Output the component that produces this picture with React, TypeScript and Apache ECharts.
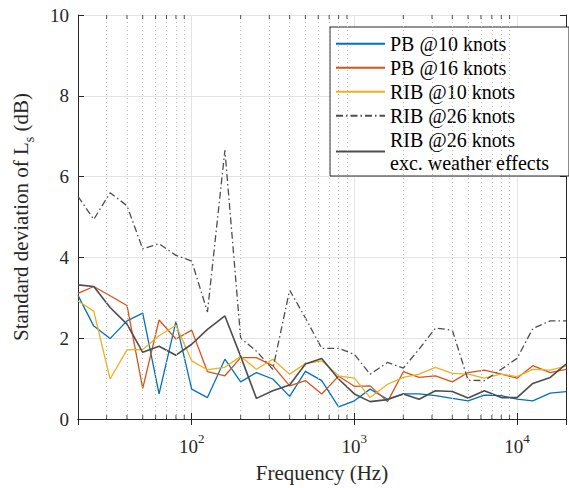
import React, { useEffect, useRef } from 'react';
import * as echarts from 'echarts';

const freqs = [20, 25, 31.5, 40, 50, 63, 80, 100, 125, 160, 200, 250, 315, 400, 500, 630, 800, 1000, 1250, 1600, 2000, 2500, 3150, 4000, 5000, 6300, 8000, 10000, 12500, 16000, 20000];

const pb10 = [3.06, 2.3, 1.99, 2.43, 2.62, 0.62, 2.41, 0.74, 0.53, 1.48, 0.92, 1.15, 0.99, 0.56, 1.18, 0.95, 0.3, 0.45, 0.74, 0.49, 0.62, 0.62, 0.58, 0.51, 0.45, 0.59, 0.58, 0.49, 0.45, 0.64, 0.68];
const pb16 = [3.11, 3.28, 3.05, 2.81, 0.76, 2.45, 1.98, 2.2, 1.17, 1.07, 1.52, 1.52, 1.32, 0.82, 0.95, 0.62, 1.06, 0.81, 0.82, 0.43, 1.17, 1.03, 1.07, 0.92, 1.15, 1.21, 1.11, 1.01, 1.32, 1.15, 1.23];
const rib10 = [2.92, 2.67, 0.99, 1.71, 1.72, 2.06, 2.32, 1.44, 1.22, 1.28, 1.55, 1.23, 1.48, 1.11, 1.37, 1.44, 1.07, 1.01, 0.53, 0.86, 1.03, 1.11, 1.28, 1.13, 1.11, 1.01, 1.11, 1.05, 1.23, 1.21, 1.31];
const rib26 = [5.51, 4.94, 5.6, 5.28, 4.21, 4.34, 4.05, 3.91, 2.65, 6.65, 2.0, 1.68, 1.23, 3.19, 2.5, 1.75, 1.75, 1.6, 1.11, 1.4, 1.26, 1.73, 2.25, 2.2, 0.96, 0.95, 1.23, 1.5, 2.24, 2.43, 2.43];
const rib26ex = [3.32, 3.28, 2.76, 2.35, 1.65, 1.8, 1.58, 1.85, 2.22, 2.55, 1.55, 0.51, 0.7, 0.84, 1.36, 1.5, 0.99, 0.62, 0.43, 0.48, 0.62, 0.49, 0.7, 0.68, 0.52, 0.7, 0.53, 0.53, 0.88, 1.03, 1.36];

const seriesNames = ['PB @10 knots', 'PB @16 knots', 'RIB @10 knots', 'RIB @26 knots', 'RIB @26 knots\nexc. weather effects'];
const minorFreqs = [30, 40, 50, 60, 70, 80, 90, 200, 300, 400, 500, 600, 700, 800, 900, 2000, 3000, 4000, 5000, 6000, 7000, 8000, 9000];
const xMin = 20;
const xMax = 20000;
const yMin = 0;
const yMax = 10;
const yStep = 2;

const pairs = (ys: number[]) => freqs.map((f, i) => [f, ys[i]]);

export default function App() {
  const ref = useRef<HTMLDivElement>(null);
  useEffect(() => {
    const chart = echarts.init(ref.current!, null, { renderer: 'svg' });
    const font = "'Liberation Serif', 'Times New Roman', serif";
    const axisColor = '#262626';
    const gridColor = '#e3e3e3';
    const tickFont = 19;
    const supFmt = (v: number) => {
      const e = Math.log10(v);
      if (Math.abs(e - Math.round(e)) < 1e-6) return `{b|10}{sup|${Math.round(e)}}`;
      return '';
    };
    const lineSeries = (name: string, data: number[], color: string, width: number, type: any) => ({
      name,
      type: 'line',
      data: pairs(data),
      symbol: 'none',
      color,
      lineStyle: { color, width, type },
      z: 2,
    });
    chart.setOption({
      animation: false,
      backgroundColor: '#ffffff',
      textStyle: { fontFamily: font },
      grid: { left: 78, top: 15, width: 492, height: 405 },
      legend: {
        orient: 'vertical',
        left: 330,
        top: 27,
        data: seriesNames,
        backgroundColor: '#ffffff',
        borderColor: axisColor,
        borderWidth: 1,
        borderRadius: 0,
        padding: [5, 20, 1, 5],
        itemWidth: 49,
        itemHeight: 1,
        itemGap: 0.5,
        selectedMode: false,
        textStyle: { fontFamily: font, fontSize: 20, lineHeight: 23.5, color: '#000' },
      },
      xAxis: [
        {
          type: 'log',
          logBase: 10,
          min: xMin,
          max: xMax,
          position: 'bottom',
          axisLine: { show: true, lineStyle: { color: axisColor, width: 1 } },
          axisTick: { show: true, inside: true, length: 6, lineStyle: { color: axisColor } },
          axisLabel: {
            formatter: supFmt,
            margin: 13,
            color: axisColor,
            fontFamily: font,
            rich: {
              b: { fontFamily: font, fontSize: tickFont, color: axisColor, lineHeight: 24, verticalAlign: 'bottom' },
              sup: { fontFamily: font, fontSize: 13, color: axisColor, lineHeight: 24, verticalAlign: 'top' },
            },
          },
          splitLine: { show: true, lineStyle: { color: gridColor, width: 1 } },
          name: 'Frequency (Hz)',
          nameLocation: 'middle',
          nameGap: 43,
          nameTextStyle: { fontFamily: font, fontSize: 21, color: axisColor },
        },
        {
          type: 'log',
          logBase: 10,
          min: xMin,
          max: xMax,
          position: 'top',
          axisLine: { show: true, lineStyle: { color: axisColor, width: 1 } },
          axisTick: { show: true, inside: true, length: 6, lineStyle: { color: axisColor } },
          axisLabel: { show: false },
          splitLine: { show: false },
        },
      ],
      yAxis: [
        {
          type: 'value',
          min: yMin,
          max: yMax,
          interval: yStep,
          position: 'left',
          axisLine: { show: true, lineStyle: { color: axisColor, width: 1 } },
          axisTick: { show: true, inside: true, length: 6, lineStyle: { color: axisColor } },
          axisLabel: { margin: 9, fontFamily: font, fontSize: tickFont, color: axisColor },
          splitLine: { show: true, lineStyle: { color: gridColor, width: 1 } },
          name: 'Standard deviation of L{sub|s} (dB)',
          nameLocation: 'middle',
          nameGap: 42,
          nameTextStyle: {
            fontFamily: font,
            fontSize: 21,
            color: axisColor,
            rich: {
              sub: { fontFamily: font, fontSize: 14, color: axisColor, verticalAlign: 'bottom', lineHeight: 30 },
            },
          },
        },
        {
          type: 'value',
          min: yMin,
          max: yMax,
          interval: yStep,
          position: 'right',
          axisLine: { show: true, lineStyle: { color: axisColor, width: 1 } },
          axisTick: { show: true, inside: true, length: 6, lineStyle: { color: axisColor } },
          axisLabel: { show: false },
          splitLine: { show: false },
        },
      ],
      series: [
        {
          type: 'line',
          data: [],
          silent: true,
          z: 1,
          markLine: {
            silent: true,
            symbol: 'none',
            label: { show: false },
            lineStyle: { color: '#bcbcbc', type: [1, 3], width: 1 },
            data: minorFreqs.map((f) => ({ xAxis: f })),
          },
        },
        {
          type: 'scatter',
          silent: true,
          clip: false,
          z: 5,
          symbol: 'rect',
          symbolSize: [1, 4],
          symbolOffset: [0, -2],
          itemStyle: { color: axisColor },
          data: minorFreqs.map((f) => [f, yMin]),
        },
        {
          type: 'scatter',
          silent: true,
          clip: false,
          z: 5,
          symbol: 'rect',
          symbolSize: [1, 4],
          symbolOffset: [0, 2],
          itemStyle: { color: axisColor },
          data: minorFreqs.map((f) => [f, yMax]),
        },
        lineSeries(seriesNames[0], pb10, '#0072BD', 1.3, 'solid'),
        lineSeries(seriesNames[1], pb16, '#D95319', 1.3, 'solid'),
        lineSeries(seriesNames[2], rib10, '#EDB120', 1.3, 'solid'),
        lineSeries(seriesNames[3], rib26, '#4d4d4d', 1.3, [7, 3, 1.5, 3]),
        lineSeries(seriesNames[4], rib26ex, '#4d4d4d', 1.6, 'solid'),
      ],
    });
    return () => chart.dispose();
  }, []);
  return <div ref={ref} style={{ position: 'fixed', left: 0, top: 0, width: 569, height: 488 }} />;
}
